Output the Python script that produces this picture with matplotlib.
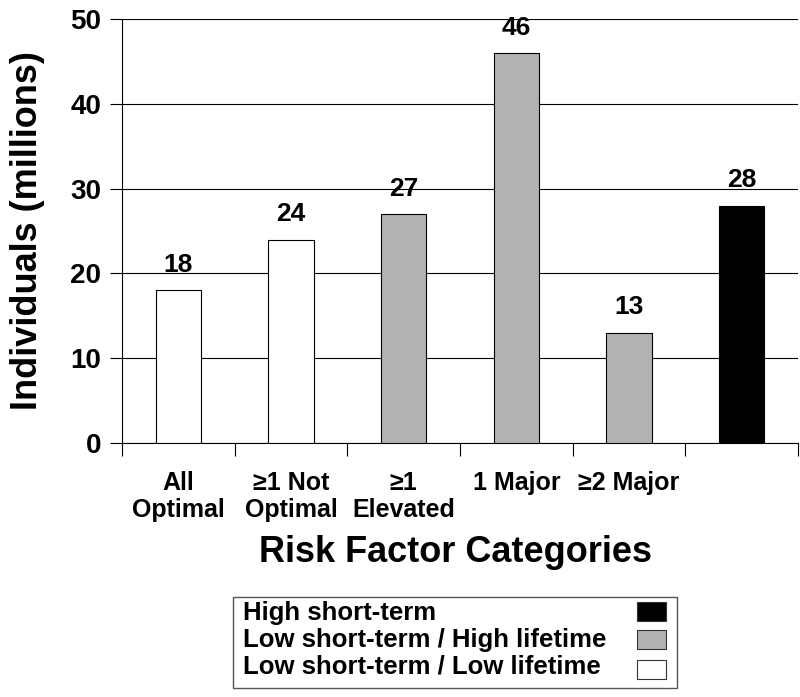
import matplotlib.pyplot as plt
from matplotlib.patches import Rectangle

plt.rcParams['font.family'] = ['Liberation Sans', 'DejaVu Sans']
plt.rcParams['font.weight'] = 'bold'

categories = ['All\nOptimal', '\u22651 Not\nOptimal', '\u22651\nElevated', '1 Major', '\u22652 Major', '']
values = [18, 24, 27, 46, 13, 28]
groups = ['low', 'low', 'mid', 'mid', 'mid', 'high']

colors = {'high': 'black', 'mid': '#b2b2b2', 'low': 'white'}
legend_labels = ['High short-term', 'Low short-term / High lifetime', 'Low short-term / Low lifetime']
legend_keys = ['high', 'mid', 'low']

fig = plt.figure(figsize=(8, 6.97), dpi=100)
ax = fig.add_axes([0.1525, 0.3644, 0.845, 0.6083])

x = list(range(len(values)))
ax.bar(x, values, width=0.4, color=[colors[g] for g in groups],
       edgecolor='black', linewidth=0.8, zorder=3)
for xi, v in zip(x, values):
    ax.text(xi, v + 3.0, str(v), ha='center', va='center', fontsize=19, fontweight='bold',
            clip_on=False)

ax.set_xlim(-0.5, len(values) - 0.5)
ax.set_ylim(0, 50)
ax.set_yticks(range(0, 51, 10))
ax.yaxis.grid(True, color='black', linewidth=0.8, zorder=0)

ax.set_xticks([i - 0.5 for i in range(len(values) + 1)])
ax.set_xticklabels([])
ax.set_xticks(x, minor=True)
ax.set_xticklabels(categories, minor=True, fontsize=18, fontweight='bold', linespacing=1.15)
ax.tick_params(axis='x', which='minor', length=0, pad=20)
ax.tick_params(axis='x', which='major', length=9, direction='out', width=0.8)
ax.tick_params(axis='y', length=9, direction='out', width=0.8, labelsize=20, pad=6)
for lab in ax.get_yticklabels():
    lab.set_fontweight('bold')

for s in ['top', 'right']:
    ax.spines[s].set_visible(False)
for s in ['left', 'bottom']:
    ax.spines[s].set_linewidth(0.8)

ax.set_ylabel('Individuals (millions)', fontsize=26, fontweight='bold', labelpad=18)
fig.text(0.57, 0.2066, 'Risk Factor Categories', ha='center', va='center',
         fontsize=26, fontweight='bold')

# legend box drawn by hand: text left, swatches right
fig.patches.append(Rectangle((233 / 800, 1 - 688 / 697), 444 / 800, 91 / 697,
                             transform=fig.transFigure, facecolor='white',
                             edgecolor='#555555', linewidth=1.0))
row_base = [620, 647, 674]
row_swatch = [602, 630, 660]
for lab, key, yb, ys in zip(legend_labels, legend_keys, row_base, row_swatch):
    fig.text(243 / 800, 1 - yb / 697, lab, ha='left', va='baseline', fontsize=18.5, fontweight='bold')
    fig.patches.append(Rectangle((637 / 800, 1 - (ys + 19) / 697), 29 / 800, 19 / 697,
                                 transform=fig.transFigure, facecolor=colors[key],
                                 edgecolor='#333333', linewidth=0.8))

fig.savefig('out.png', dpi=100)
